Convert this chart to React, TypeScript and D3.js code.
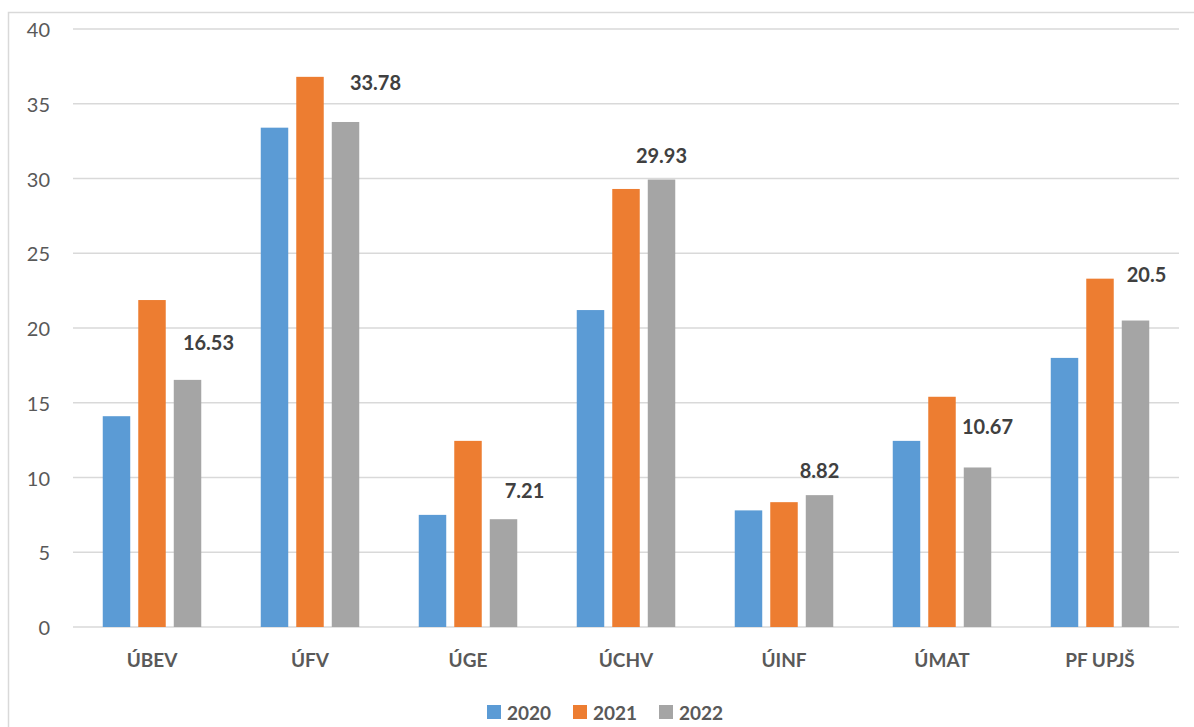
import { scaleBand, scaleLinear } from "d3";

const categories = ["ÚBEV", "ÚFV", "ÚGE", "ÚCHV", "ÚINF", "ÚMAT", "PF UPJŠ"];
const years = ["2020", "2021", "2022"];
const values2020 = [14.1, 33.4, 7.5, 21.2, 7.8, 12.45, 18.0];
const values2021 = [21.87, 36.8, 12.45, 29.3, 8.35, 15.4, 23.3];
const values2022 = [16.53, 33.78, 7.21, 29.93, 8.82, 10.67, 20.5];
const yTicks = [0, 5, 10, 15, 20, 25, 30, 35, 40];

// the labels were dragged by hand in the original, so each has its own nudge
const labelNudge = [
  [21, -38],
  [30, -40],
  [21, -29],
  [0, -25],
  [0, -25],
  [10, -41],
  [11, -47],
];

const colors = ["#5b9bd5", "#ed7d31", "#a5a5a5"];
const series = [values2020, values2021, values2022];

const W = 1194;
const H = 727;
const left = 73;
const right = 1179;
const top = 29;
const bottom = 627;

export default function App() {
  const x0 = scaleBand<string>().domain(categories).range([left, right]);
  const x1 = scaleBand<string>()
    .domain(years)
    .range([29.75, x0.bandwidth() - 29.75])
    .paddingInner(0.226);
  const y = scaleLinear().domain([0, 40]).range([bottom, top]);

  const font = "Lato, 'Open Sans', sans-serif";
  const legendX = scaleBand<string>().domain(years).range([487, 745]);

  return (
    <div style={{ position: "absolute", left: 0, top: 0 }}>
      <svg width={W} height={H} style={{ display: "block", background: "#fff" }}>
        <rect x={8.5} y={12.5} width={W + 20} height={H + 20} fill="#fff" stroke="#d9d9d9" strokeWidth={1.5} />
        {yTicks.map((t) => (
          <g key={t}>
            <line x1={left} x2={right} y1={y(t)} y2={y(t)} stroke="#d9d9d9" strokeWidth={1.5} />
            <text x={50} y={y(t)} textAnchor="end" dominantBaseline="central" fill="#595959" fontSize={20} fontFamily={font}>
              {t}
            </text>
          </g>
        ))}
        {categories.map((c, i) => (
          <g key={c} transform={`translate(${x0(c)},0)`}>
            {series.map((vals, s) => (
              <rect
                key={s}
                x={x1(years[s])}
                y={y(vals[i])}
                width={x1.bandwidth()}
                height={y(0) - y(vals[i])}
                fill={colors[s]}
              />
            ))}
            <text
              x={(x1(years[2]) ?? 0) + x1.bandwidth() / 2 + labelNudge[i][0]}
              y={y(values2022[i]) + labelNudge[i][1]}
              textAnchor="middle"
              dominantBaseline="central"
              fill="#404040"
              fontSize={20}
              fontWeight="bold"
              fontFamily={font}
            >
              {values2022[i]}
            </text>
            <text
              x={x0.bandwidth() / 2}
              y={659}
              textAnchor="middle"
              dominantBaseline="central"
              fill="#595959"
              fontSize={19}
              fontWeight="bold"
              fontFamily={font}
            >
              {c}
            </text>
          </g>
        ))}
        {years.map((yr, s) => (
          <g key={yr} transform={`translate(${legendX(yr)},712)`}>
            <rect x={0} y={-7} width={14} height={14} fill={colors[s]} />
            <text x={20} y={0} dominantBaseline="central" fill="#595959" fontSize={19} fontWeight="bold" fontFamily={font}>
              {yr}
            </text>
          </g>
        ))}
      </svg>
    </div>
  );
}
